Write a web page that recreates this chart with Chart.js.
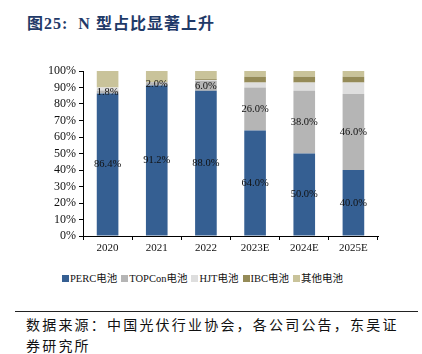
<!DOCTYPE html>
<html>
<head>
<meta charset="utf-8">
<script src="https://cdn.jsdelivr.net/npm/chart.js@4.4.0/dist/chart.umd.min.js"></script>
<style>
  html, body { margin: 0; padding: 0; background: #fff; }
  body { width: 422px; height: 354px; position: relative; overflow: hidden; }
  #title { position: absolute; left: 27px; top: 10px; font: bold 16px 'Liberation Serif', 'Noto Sans CJK SC', serif; color: #1f3a68; letter-spacing: 1px; }
  #chartBox { position: absolute; left: 0; top: 55px; width: 422px; height: 200px; }
  #legend { position: absolute; left: 62px; top: 270px; font: 10.5px 'Liberation Serif', 'Noto Sans CJK SC', serif; color: #111; white-space: nowrap; }
  #legend span.item { display: inline-block; margin-right: 4px; }
  #legend span.box { display: inline-block; width: 7px; height: 7px; margin-right: 1px; vertical-align: 0px; }
  #rule { position: absolute; left: 15px; top: 311px; width: 403px; height: 0; border-top: 1.5px solid #222; }
  #source { position: absolute; left: 26px; top: 314px; width: 396px; font: 14px 'Noto Sans CJK SC', serif; color: #111; line-height: 21px; letter-spacing: 2.2px; white-space: nowrap; }
</style>
</head>
<body>
<div id="title">图25:&nbsp; N 型占比显著上升</div>
<div id="chartBox"><canvas id="myChart" width="422" height="200"></canvas></div>
<div id="legend"></div>
<div id="rule"></div>
<div id="source">数据来源：中国光伏行业协会，各公司公告，东吴证<br>券研究所</div>
<script>
'use strict';

const years = ['2020', '2021', '2022', '2023E', '2024E', '2025E'];
const perc = [86.4, 91.2, 88.0, 64.0, 50.0, 40.0];
const topcon = [1.8, 2.0, 6.0, 26.0, 38.0, 46.0];
const hjt = [1.8, 0, 0.6, 3.0, 5.0, 7.0];
const ibc = [0, 0, 0.6, 3.5, 3.5, 3.5];
const other = [10.0, 6.8, 4.8, 3.5, 3.5, 3.5];
const yTicks = [0, 10, 20, 30, 40, 50, 60, 70, 80, 90, 100];

const serif = "'Liberation Serif', 'Noto Sans CJK SC', serif";

const segLabels = {
    id: 'segLabels',
    afterDatasetsDraw: function (chart) {
        const ctx = chart.ctx;
        ctx.save();
        ctx.font = '10.5px ' + serif;
        ctx.fillStyle = '#111';
        ctx.textAlign = 'center';
        ctx.textBaseline = 'middle';
        [0, 1].forEach(function (di) {
            const meta = chart.getDatasetMeta(di);
            meta.data.forEach(function (bar, i) {
                const v = chart.data.datasets[di].data[i];
                if (!v) return;
                ctx.fillText(v.toFixed(1) + '%', bar.x, (bar.y + bar.base) / 2);
            });
        });
        ctx.restore();
    }
};

const mk = function (label, data, color) {
    return {
        label: label,
        data: data,
        backgroundColor: color,
        borderWidth: 0,
        categoryPercentage: 1,
        barPercentage: 0.44
    };
};

var ctx = document.getElementById('myChart').getContext('2d');
var myChart = new Chart(ctx, {
    type: 'bar',
    data: {
        labels: years,
        datasets: [
            mk('PERC电池', perc, '#355f92'),
            mk('TOPCon电池', topcon, '#b5b5b5'),
            mk('HJT电池', hjt, '#dedede'),
            mk('IBC电池', ibc, '#958b58'),
            mk('其他电池', other, '#c9c39a')
        ]
    },
    options: {
        responsive: false,
        animation: false,
        layout: { padding: { left: 0, right: 44, top: 16, bottom: 0 } },
        plugins: {
            tooltip: { enabled: false },
            legend: { display: false }
        },
        scales: {
            x: {
                stacked: true,
                afterFit: function (s) { s.height = 19; },
                border: { color: '#000', width: 1 },
                grid: { drawOnChartArea: false, drawTicks: true, tickLength: 4, color: '#000' },
                ticks: { color: '#111', font: { size: 11, family: serif }, padding: 2 }
            },
            y: {
                stacked: true,
                min: 0,
                max: 100,
                afterFit: function (s) { s.width = 83; },
                afterBuildTicks: function (s) { s.ticks = yTicks.map(function (v) { return { value: v }; }); },
                border: { color: '#000', width: 1 },
                grid: { drawOnChartArea: false, drawTicks: true, tickLength: 4, color: '#000' },
                ticks: {
                    autoSkip: false,
                    color: '#111',
                    font: { size: 12, family: serif },
                    padding: 3,
                    callback: function (v) { return v + '%'; }
                }
            }
        }
    },
    plugins: [segLabels]
});

// legend built from the chart's own datasets
const legendEl = document.getElementById('legend');
myChart.data.datasets.forEach(function (ds) {
    const item = document.createElement('span');
    item.className = 'item';
    const box = document.createElement('span');
    box.className = 'box';
    box.style.background = ds.backgroundColor;
    item.appendChild(box);
    item.appendChild(document.createTextNode(ds.label));
    legendEl.appendChild(item);
});
</script>
</body>
</html>
